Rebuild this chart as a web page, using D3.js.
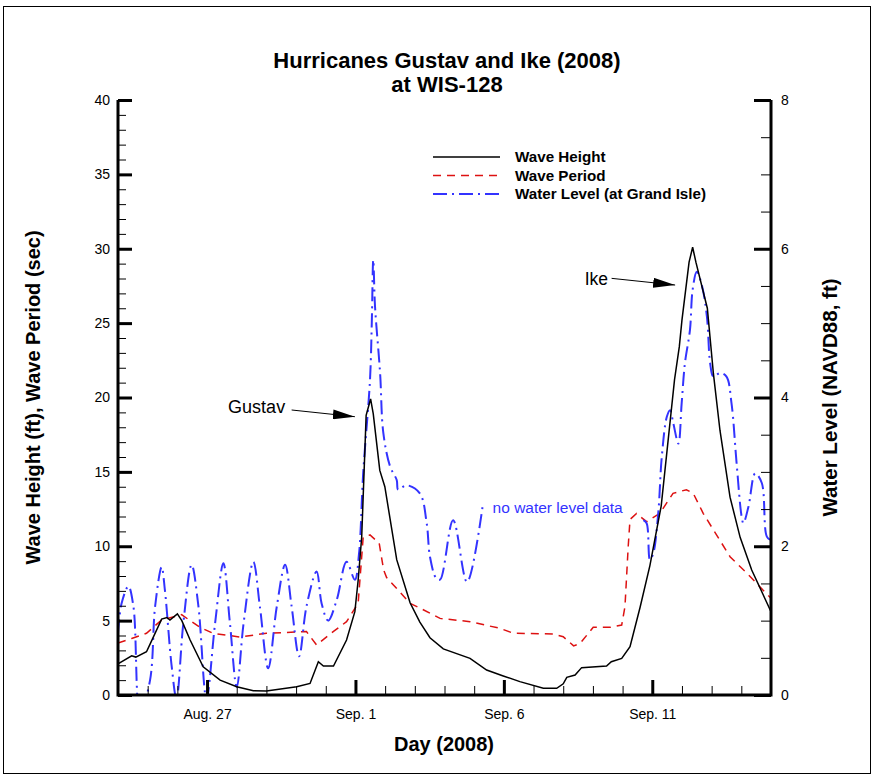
<!DOCTYPE html>
<html><head><meta charset="utf-8">
<script src="https://cdn.jsdelivr.net/npm/d3@7"></script>
<style>
body{margin:0;background:#fff}
text{font-family:"Liberation Sans",Arial,Helvetica,sans-serif}
</style>
</head><body>
<svg id="c" width="876" height="776"></svg>
<script>
// ---------- DATA (day = days since Aug. 24, 2008 00:00) ----------
const titleLines = ["Hurricanes Gustav and Ike (2008)", "at WIS-128"];
const xTickDays = [3, 8, 13, 18];
const xTickLabels = ["Aug. 27", "Sep. 1", "Sep. 6", "Sep. 11"];
const leftTicks = [0, 5, 10, 15, 20, 25, 30, 35, 40];
const rightTicks = [0, 2, 4, 6, 8];
const seriesNames = ["Wave Height", "Wave Period", "Water Level (at Grand Isle)"];

// Wave height (ft)  [day, value]
const waveHeight = [
 [0,2.1],[0.46,2.64],[0.6,2.55],[0.96,2.91],[1.1,3.5],[1.47,5.1],[1.65,5.2],[1.75,5.04],
 [2.0,5.45],[2.15,5.0],[2.43,3.7],[2.87,1.9],[3.44,1.0],[4.0,0.56],[4.56,0.29],[5.0,0.27],
 [6.02,0.56],[6.47,0.78],[6.75,2.24],[6.92,1.95],[7.26,1.95],[7.7,3.7],[7.98,5.6],[8.09,7.7],
 [8.21,10.6],[8.36,18.8],[8.51,19.9],[8.6,18.9],[8.82,15.1],[8.99,14.0],[9.39,9.1],[9.84,6.2],
 [10.17,4.9],[10.51,3.85],[10.96,3.1],[11.86,2.46],[12.42,1.68],[12.98,1.28],[13.54,0.9],
 [14.33,0.45],[14.78,0.45],[15.0,0.75],[15.12,1.19],[15.4,1.34],[15.62,1.84],[16.46,1.95],
 [16.62,2.24],[16.97,2.46],[17.25,3.25],[17.59,5.9],[17.92,8.7],[18.3,12.7],[18.75,21.2],
 [18.91,23.4],[19.0,25.2],[19.24,29.1],[19.36,30.1],[19.47,29.1],[19.855,26.0],[20.06,21.6],
 [20.28,17.8],[20.62,13.3],[20.96,10.6],[21.35,8.4],[22,5.6]
];

// Wave period (sec)  [day, value]
const wavePeriod = [
 [0,3.5],[0.46,3.8],[0.96,4.15],[1.47,5.04],[2.14,5.4],[2.76,4.55],[3.2,4.15],[4.11,3.9],
 [5.0,4.15],[6.35,4.26],[6.69,3.36],[7.25,4.26],[7.7,4.93],[8.09,6.16],[8.26,10.6],[8.49,10.76],
 [8.8,10.2],[8.95,8.4],[9.05,7.9],[9.28,7.4],[9.84,6.16],[10.17,5.85],[10.85,5.15],[11.86,4.93],
 [12.87,4.48],[13.32,4.15],[14.67,4.1],[15.0,3.92],[15.35,3.3],[15.57,3.47],[16.01,4.55],
 [16.58,4.55],[16.97,4.7],[17.08,5.94],[17.19,10.0],[17.25,11.8],[17.47,12.2],[17.81,11.65],
 [18.25,12.2],[18.7,13.56],[19.15,13.8],[19.38,13.56],[19.72,12.2],[20.06,11.1],[20.62,9.3],
 [21.18,8.2],[22,6.5]
];

// Water level (ft NAVD88) – Gustav segment, then gap, then Ike segment
const waterLevelGustav = [
 [0,0.83],[0.12,1.23],[0.35,1.46],[0.52,1.19],[0.74,-0.25],[1.08,0.2],[1.25,1.19],[1.47,1.72],
 [1.58,1.41],[1.81,0.38],[1.97,-0.05],[2.2,0.96],[2.48,1.75],[2.71,1.19],[2.98,-0.05],[3.27,0.96],
 [3.55,1.77],[3.77,0.97],[4.0,0.11],[4.23,0.96],[4.56,1.79],[4.78,1.19],[5.06,0.36],[5.35,1.19],
 [5.63,1.75],[5.85,1.19],[6.1,0.52],[6.35,1.19],[6.69,1.66],[6.86,1.23],[7.08,1.0],[7.37,1.28],
 [7.7,1.79],[7.98,1.55],[8.12,1.9],[8.26,2.98],[8.49,4.24],[8.55,5.0],[8.6,5.85],[8.66,5.22],
 [8.83,4.33],[8.94,3.52],[9.17,3.07],[9.39,2.89],[9.44,2.76],[9.72,2.82],[10.17,2.71],[10.4,2.31],
 [10.51,1.86],[10.72,1.57],[10.85,1.55],[11.29,2.35],[11.76,1.52],[12.3,2.58]
];
const waterLevelIke = [
 [17.7,2.35],[17.81,2.31],[17.92,1.82],[18.03,1.9],[18.2,2.44],[18.32,3.2],[18.49,3.74],[18.6,3.83],
 [18.71,3.65],[18.88,3.38],[18.99,3.92],[19.1,4.46],[19.27,4.91],[19.36,5.45],[19.5,5.69],[19.67,5.51],
 [19.84,5.09],[19.95,4.46],[20.06,4.28],[20.28,4.33],[20.5,4.28],[20.67,3.92],[20.84,3.12],[21.01,2.4],
 [21.07,2.31],[21.24,2.53],[21.47,2.98],[21.69,2.85],[21.86,2.13],[22,2.08]
];

// ---------- LAYOUT ----------
const svg = d3.select("#c");
const L = 118, R = 771, T = 100, B = 695;
const x = d3.scaleLinear().domain([0, 22]).range([L, R]);
const y = d3.scaleLinear().domain([0, 40]).range([B, T]);
const yR = d3.scaleLinear().domain([0, 8]).range([B, T]);
const blue = "#3333ff", red = "#dd1111";

svg.append("rect").attr("x", 3.5).attr("y", 6.5).attr("width", 867).attr("height", 767)
  .attr("fill", "none").attr("stroke", "#000").attr("stroke-width", 1);

// Title
svg.append("g").selectAll("text").data(titleLines).join("text")
  .attr("x", 447).attr("y", (d, i) => 68 + i * 24)
  .attr("text-anchor", "middle").attr("font-weight", "bold").attr("font-size", 22)
  .text(d => d);

// Clip
svg.append("clipPath").attr("id", "clip").append("rect")
  .attr("x", L).attr("y", T - 5).attr("width", R - L).attr("height", B - T + 5);

const plot = svg.append("g").attr("clip-path", "url(#clip)");
const lineL = d3.line().x(d => x(d[0])).y(d => y(d[1]));
const lineR = d3.line().x(d => x(d[0])).y(d => yR(d[1])).curve(d3.curveCatmullRom.alpha(0.5));

plot.append("path").datum(wavePeriod).attr("d", lineL)
  .attr("fill", "none").attr("stroke", red).attr("stroke-width", 1.5).attr("stroke-dasharray", "8,6");
[waterLevelGustav, waterLevelIke].forEach(seg => {
  plot.append("path").datum(seg).attr("d", lineR)
    .attr("fill", "none").attr("stroke", blue).attr("stroke-width", 2).attr("stroke-dasharray", "14,5,2,5");
});
plot.append("path").datum(waveHeight).attr("d", lineL)
  .attr("fill", "none").attr("stroke", "#000").attr("stroke-width", 1.5);

// Axes
function styleAxis(g, w) {
  g.select(".domain").remove();
  g.selectAll(".tick line").attr("stroke", "#000").attr("stroke-width", w);
  g.selectAll(".tick text").attr("font-size", 14).attr("fill", "#000");
}
const minorL = d3.range(0, 41, 1), minorR = d3.range(0, 8.01, 0.5), minorX = d3.range(0, 23, 1);

svg.append("g").attr("transform", `translate(${L},0)`)
  .call(d3.axisLeft(y).tickValues(minorL).tickSizeInner(-8).tickSizeOuter(0).tickFormat(""))
  .call(g => styleAxis(g, 1));
svg.append("g").attr("transform", `translate(${L},0)`)
  .call(d3.axisLeft(y).tickValues(leftTicks).tickSizeInner(-14).tickSizeOuter(0).tickPadding(8))
  .call(g => styleAxis(g, 3));

svg.append("g").attr("transform", `translate(${R},0)`)
  .call(d3.axisRight(yR).tickValues(minorR).tickSizeInner(-10).tickSizeOuter(0).tickFormat(""))
  .call(g => styleAxis(g, 1));
svg.append("g").attr("transform", `translate(${R},0)`)
  .call(d3.axisRight(yR).tickValues(rightTicks).tickSizeInner(-17).tickSizeOuter(0).tickPadding(10))
  .call(g => styleAxis(g, 3));

svg.append("g").attr("transform", `translate(0,${B})`)
  .call(d3.axisBottom(x).tickValues(minorX).tickSizeInner(-9).tickSizeOuter(0).tickFormat(""))
  .call(g => styleAxis(g, 1));
svg.append("g").attr("transform", `translate(0,${B})`)
  .call(d3.axisBottom(x).tickValues(xTickDays).tickSizeInner(-15).tickSizeOuter(0).tickPadding(14)
    .tickFormat((d, i) => xTickLabels[i]))
  .call(g => styleAxis(g, 3));

// axis lines (left, bottom, right)
svg.append("path").attr("d", `M${L},${T}V${B}H${R}V${T}`)
  .attr("fill", "none").attr("stroke", "#000").attr("stroke-width", 3);

// Axis titles
svg.append("text").attr("transform", `translate(40,${(T + B) / 2}) rotate(-90)`)
  .attr("text-anchor", "middle").attr("font-weight", "bold").attr("font-size", 20)
  .text("Wave Height (ft), Wave Period (sec)");
svg.append("text").attr("transform", `translate(837,${(T + B) / 2}) rotate(-90)`)
  .attr("text-anchor", "middle").attr("font-weight", "bold").attr("font-size", 20.5)
  .text("Water Level (NAVD88, ft)");
svg.append("text").attr("x", 444).attr("y", 751)
  .attr("text-anchor", "middle").attr("font-weight", "bold").attr("font-size", 20)
  .text("Day (2008)");

// Legend
const legStyles = [
  {stroke: "#000", dash: null, w: 1.5},
  {stroke: red, dash: "8,6", w: 1.5},
  {stroke: blue, dash: "14,5,2,5", w: 2}
];
const leg = svg.append("g");
seriesNames.forEach((n, i) => {
  const yy = 157 + i * 18.5;
  leg.append("line").attr("x1", 433).attr("x2", 500).attr("y1", yy).attr("y2", yy)
    .attr("stroke", legStyles[i].stroke).attr("stroke-width", legStyles[i].w)
    .attr("stroke-dasharray", legStyles[i].dash);
  leg.append("text").attr("x", 515).attr("y", yy + 5).attr("font-weight", "bold").attr("font-size", 15.2)
    .text(n);
});

// Annotations
const defs = svg.append("defs");
defs.append("marker").attr("id", "ah").attr("markerUnits", "userSpaceOnUse")
  .attr("viewBox", "0 0 22 10").attr("refX", 22).attr("refY", 5)
  .attr("markerWidth", 22).attr("markerHeight", 10).attr("orient", "auto")
  .append("path").attr("d", "M0,0L22,5L0,10Z").attr("fill", "#000");

svg.append("text").attr("x", x(3.71)).attr("y", y(19.36)).attr("dy", "0.35em")
  .attr("font-size", 18).text("Gustav");
svg.append("line").attr("x1", x(5.85)).attr("y1", y(19.16)).attr("x2", x(7.98)).attr("y2", y(18.71))
  .attr("stroke", "#000").attr("stroke-width", 1).attr("marker-end", "url(#ah)");
svg.append("text").attr("x", x(16.51)).attr("y", y(27.97)).attr("dy", "0.35em")
  .attr("text-anchor", "end").attr("font-size", 17.5).text("Ike");
svg.append("line").attr("x1", x(16.63)).attr("y1", y(28.01)).attr("x2", x(18.77)).attr("y2", y(27.56))
  .attr("stroke", "#000").attr("stroke-width", 1).attr("marker-end", "url(#ah)");
svg.append("text").attr("x", x(12.62)).attr("y", y(12.57)).attr("dy", "0.35em")
  .attr("font-size", 15.5).attr("fill", blue).text("no water level data");
</script>
</body></html>
